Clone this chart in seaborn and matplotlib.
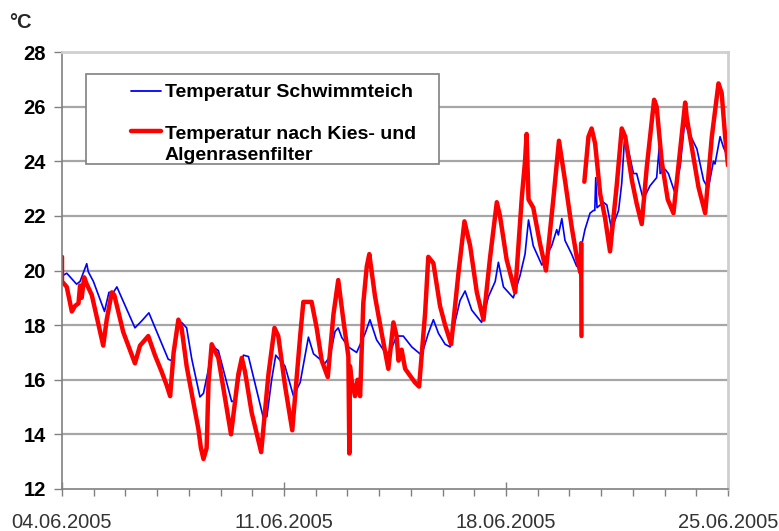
import numpy as np
import pandas as pd
import matplotlib
matplotlib.use("Agg")
import matplotlib.pyplot as plt
import matplotlib.dates as mdates
from matplotlib.lines import Line2D
from matplotlib.patches import Rectangle
import seaborn as sns

# ---------------- data (days since 04.06.2005, temperature in °C) ----------------
start_date = "2005-06-04"
series_labels = ["Temperatur Schwimmteich", "Temperatur nach Kies- und\nAlgenrasenfilter"]
y_ticks = [12, 14, 16, 18, 20, 22, 24, 26, 28]
x_tick_labels = ["04.06.2005", "11.06.2005", "18.06.2005", "25.06.2005"]

blue_days = [0.00, 0.15, 0.46, 0.57, 0.70, 0.78, 0.83, 0.99, 1.34, 1.48, 1.62, 1.73,
             2.30, 2.51, 2.74, 3.35, 3.46, 3.66, 3.77, 3.93, 4.09, 4.35, 4.46, 4.62,
             4.77, 4.93, 5.35, 5.46, 5.72, 5.88, 6.35, 6.46, 6.61, 6.74, 7.03, 7.30,
             7.51, 7.77, 7.93, 8.29, 8.45, 8.61, 8.71, 8.82, 9.03, 9.29, 9.56, 9.71,
             9.92, 10.19, 10.34, 10.55, 10.76, 11.03, 11.34, 11.55, 11.71, 11.87, 12.08, 12.24,
             12.39, 12.55, 12.71, 12.92, 13.23, 13.45, 13.66, 13.76, 13.92, 14.23, 14.44, 14.60,
             14.71, 14.86, 15.13, 15.44, 15.60, 15.65, 15.76, 15.86, 16.07, 16.23, 16.39, 16.49,
             16.65, 16.76, 16.80, 16.83, 16.87, 17.07, 17.18, 17.33, 17.55, 17.65, 17.73, 17.86,
             18.02, 18.12, 18.33, 18.54, 18.75, 18.83, 18.86, 19.02, 19.12, 19.31, 19.49, 19.63,
             19.81, 20.02, 20.23, 20.38, 20.54, 20.59, 20.75, 20.86, 21.00]
blue_temp = [19.8, 19.9, 19.5, 19.6, 20.0, 20.25, 19.95, 19.6, 18.5, 19.2, 19.2, 19.4,
             17.9, 18.15, 18.45, 16.75, 16.7, 17.9, 18.1, 17.9, 16.77, 15.37, 15.5, 16.4,
             17.2, 17.07, 15.2, 15.25, 16.9, 16.85, 14.6, 14.65, 16.0, 16.9, 16.5, 15.4,
             15.9, 17.56, 16.95, 16.6, 16.85, 17.77, 17.9, 17.55, 17.2, 17.0, 17.7, 18.2,
             17.46, 17.0, 17.0, 17.6, 17.6, 17.2, 16.9, 17.7, 18.2, 17.7, 17.3, 17.2,
             18.1, 18.9, 19.25, 18.55, 18.1, 19.05, 19.6, 20.3, 19.4, 19.0, 19.8, 20.6,
             21.85, 20.9, 20.2, 20.9, 21.5, 21.3, 21.9, 21.1, 20.6, 20.15, 20.95, 21.5,
             22.1, 22.2, 22.2, 23.4, 22.3, 22.5, 22.4, 21.5, 22.2, 23.2, 24.7, 24.4,
             23.55, 23.55, 22.6, 23.1, 23.4, 24.5, 23.55, 23.7, 23.55, 22.9, 23.8, 25.4,
             24.95, 24.45, 23.3, 23.0, 24.0, 23.9, 24.9, 24.5, 24.15]

red_days_a = [0.00, 0.00, 0.15, 0.31, 0.41, 0.52, 0.57, 0.62, 0.70, 0.78, 0.94, 1.30,
              1.41, 1.57, 1.65, 1.93, 2.30, 2.46, 2.72, 2.93, 3.14, 3.30, 3.41, 3.52,
              3.67, 3.77, 3.93, 4.09, 4.30, 4.38, 4.46, 4.56, 4.62, 4.72, 4.93, 5.33,
              5.56, 5.67, 5.77, 5.98, 6.28, 6.51, 6.70, 6.82, 7.03, 7.26, 7.51, 7.61,
              7.87, 8.03, 8.19, 8.38, 8.56, 8.71, 8.87, 9.03, 9.06, 9.08, 9.13, 9.24,
              9.32, 9.40, 9.50, 9.61, 9.69, 9.87, 10.08, 10.29, 10.45, 10.55, 10.61, 10.71,
              10.82, 11.13, 11.26, 11.45, 11.55, 11.71, 11.92, 12.08, 12.27, 12.50, 12.69, 12.87,
              13.08, 13.29, 13.50, 13.71, 13.81, 14.02, 14.29, 14.50, 14.60, 14.65, 14.71, 14.86,
              15.07, 15.26, 15.50, 15.67, 15.86, 16.07, 16.23, 16.33, 16.36, 16.37, 16.38]
red_temp_a = [20.5, 19.6, 19.4, 18.5, 18.7, 18.8, 19.45, 19.0, 19.75, 19.5, 19.1, 17.25,
              18.2, 19.2, 19.1, 17.75, 16.6, 17.25, 17.6, 16.9, 16.3, 15.8, 15.4, 17.0,
              18.2, 17.9, 16.5, 15.5, 14.2, 13.5, 13.1, 13.5, 15.9, 17.3, 16.8, 14.0,
              16.2, 16.8, 16.3, 14.8, 13.35, 16.2, 17.9, 17.6, 15.8, 14.15, 17.6, 18.85,
              18.85, 17.9, 16.7, 16.1, 18.4, 19.65, 18.2, 16.85, 13.3, 16.5, 16.0, 15.4,
              16.0, 15.4, 18.8, 20.15, 20.6, 19.05, 17.7, 16.4, 18.1, 17.6, 16.7, 17.1,
              16.4, 15.9, 15.75, 18.45, 20.5, 20.27, 18.7, 18.0, 17.3, 19.9, 21.8, 20.9,
              19.2, 18.2, 20.5, 22.5, 22.0, 20.4, 19.2, 22.7, 24.0, 25.0, 22.6, 22.3,
              21.0, 20.0, 22.7, 24.75, 23.3, 21.6, 20.5, 20.0, 19.9, 21.0, 17.6]

red_days_b = [16.47, 16.60, 16.70, 16.81, 16.97, 17.12, 17.28, 17.49, 17.65, 17.76, 17.97, 18.12,
              18.28, 18.44, 18.67, 18.75, 18.91, 19.10, 19.28, 19.49, 19.65, 19.70, 19.86, 20.07,
              20.28, 20.49, 20.70, 20.80, 20.91, 21.00]
red_temp_b = [23.25, 24.9, 25.2, 24.65, 22.8, 21.95, 20.7, 23.1, 25.2, 24.9, 23.3, 22.45,
              21.7, 23.8, 26.25, 26.0, 24.0, 22.6, 22.1, 24.4, 26.15, 25.6, 24.5, 23.05,
              22.1, 24.9, 26.85, 26.5, 24.9, 23.85]

# ---------------- build tables ----------------
t0 = pd.Timestamp(start_date)
def to_time(days):
    return t0 + pd.to_timedelta(np.asarray(days, dtype=float), unit="D")

df_blue = pd.DataFrame({"time": to_time(blue_days), "temp": blue_temp})
df_red = pd.concat([
    pd.DataFrame({"time": to_time(red_days_a), "temp": red_temp_a, "segment": 0}),
    pd.DataFrame({"time": to_time(red_days_b), "temp": red_temp_b, "segment": 1}),
], ignore_index=True)

# ---------------- styling ----------------
sns.set_theme(style="white")
plt.rcParams["font.family"] = ["Liberation Sans", "DejaVu Sans"]

W, H = 779, 531
fig = plt.figure(figsize=(W / 100, H / 100), dpi=100)
ax = fig.add_axes([62 / W, 1 - 489 / H, (728 - 62) / W, (489 - 52) / H])

BLUE = "#0000ff"
RED = "#ff0000"

sns.lineplot(data=df_blue, x="time", y="temp", color=BLUE, linewidth=1.2,
             estimator=None, sort=False, ax=ax, legend=False)
sns.lineplot(data=df_red, x="time", y="temp", units="segment", color=RED, linewidth=3.2,
             estimator=None, sort=False, ax=ax, legend=False)

ax.set_xlabel("")
ax.set_ylabel("")
ax.set_ylim(12, 28)
ax.set_xlim(t0, t0 + pd.Timedelta(days=21))

ax.set_yticks(y_ticks)
ax.set_yticklabels([str(v) for v in y_ticks], fontsize=14.5, fontweight="bold", color="black")

major_dates = [pd.Timestamp(s[6:10] + "-" + s[3:5] + "-" + s[0:2]) for s in x_tick_labels]
ax.set_xticks(major_dates)
ax.set_xticklabels(x_tick_labels, fontsize=14.5, color="#333333")
ax.xaxis.set_minor_locator(mdates.DayLocator())

ax.grid(False)
ax.yaxis.grid(True, color="#a6a6a6", linewidth=1.6)
ax.set_axisbelow(True)
ygl = ax.get_ygridlines()
ygl[0].set_visible(False)
ygl[-1].set_visible(False)

ax.tick_params(axis="y", which="major", direction="out", length=5.5, width=1,
               color="#808080", pad=6, left=True)
ax.tick_params(axis="x", which="major", direction="inout", length=10, width=1,
               color="#808080", pad=12, bottom=True)
ax.tick_params(axis="x", which="minor", direction="out", length=5, width=1,
               color="#808080", bottom=True)

for side in ["left", "bottom"]:
    ax.spines[side].set_color("#808080")
    ax.spines[side].set_linewidth(1.2)
for side in ["top", "right"]:
    ax.spines[side].set_color("#cfcfcf")
    ax.spines[side].set_linewidth(2)

# unit label
fig.text(9 / W, 1 - 22 / H, "°C", fontsize=14.5, fontweight="bold", va="center", ha="left")

# legend box + legend
fig.add_artist(Rectangle((86 / W, 1 - 164 / H), (439 - 86) / W, (164 - 74) / H,
                         transform=fig.transFigure, facecolor="white",
                         edgecolor="#808080", linewidth=1.2, zorder=5))
handles = [Line2D([], [], color=BLUE, linewidth=1.3), Line2D([], [], color=RED, linewidth=3.2)]
leg = fig.legend(handles, series_labels, loc="upper left",
                 bbox_to_anchor=(121 / W, 1 - 74 / H), frameon=False,
                 borderpad=0, handlelength=1.55, handletextpad=0.2,
                 labelspacing=1.25, prop={"weight": "bold", "size": 14})
leg.set_zorder(6)
for t in leg.get_texts():
    t.set_color("black")
    t.set_linespacing(1.3)
# put the red handle at the first line of its two-line label (as in the original)
red_handle = leg.legend_handles[1]
red_handle.set_ydata(np.asarray(red_handle.get_ydata(), dtype=float) + 9.5)

fig.savefig("out.png", dpi=100)
